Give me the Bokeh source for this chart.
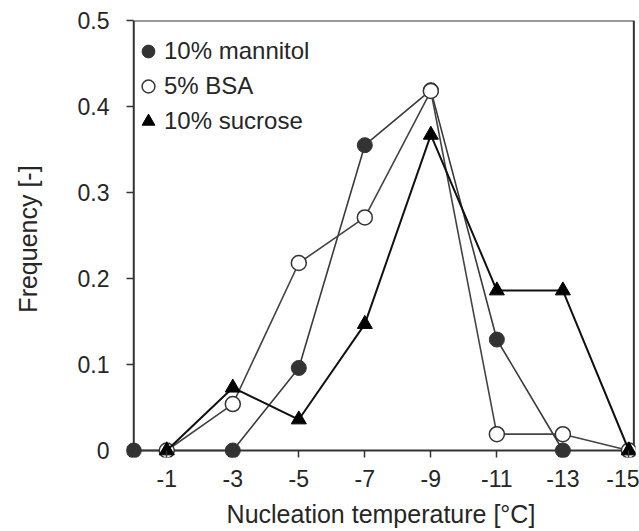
from bokeh.plotting import figure
from bokeh.models import Range1d, FixedTicker, Legend, LegendItem, BoxAnnotation
from bokeh.embed import file_html
from bokeh.resources import INLINE

# Data
temps_mannitol = [0, -3, -5, -7, -9, -11, -13]
freq_mannitol = [0, 0, 0.096, 0.355, 0.419, 0.129, 0]

temps_bsa = [-1, -3, -5, -7, -9, -11, -13, -15]
freq_bsa = [0, 0.054, 0.218, 0.271, 0.418, 0.019, 0.019, 0]

temps_sucrose = [-1, -3, -5, -7, -9, -11, -13, -15]
freq_sucrose = [0, 0.073, 0.036, 0.147, 0.367, 0.186, 0.186, 0]

x_ticks = [-1, -3, -5, -7, -9, -11, -13, -15]
x_tick_labels = ["-1", "-3", "-5", "-7", "-9", "-11", "-13", "-15"]
y_ticks = [0, 0.1, 0.2, 0.3, 0.4, 0.5]
y_tick_labels = ["0", "0.1", "0.2", "0.3", "0.4", "0.5"]

# axis limits of the plot area
X_MAX, X_MIN = 0, -15.15
Y_MIN, Y_MAX = 0, 0.5

FONT = "Liberation Sans"
TXT = "#262626"
AX = "#333333"

p = figure(width=639, height=531,
           x_range=Range1d(0.22, -15.2), y_range=Range1d(-0.00814, 0.5),
           output_backend="svg", toolbar_location=None,
           min_border_left=126, min_border_right=4,
           min_border_top=20, min_border_bottom=74)

p.background_fill_color = "white"
p.border_fill_color = "white"
p.outline_line_color = None
p.grid.visible = False

# plot-area box: its left and bottom edges are the axis lines
p.add_layout(BoxAnnotation(left=X_MAX, right=X_MIN, bottom=Y_MIN, top=Y_MAX,
                           fill_alpha=0, line_color=AX, line_alpha=1,
                           line_width=2, level="underlay"))

# series
p.line(temps_mannitol, freq_mannitol, line_color="#3a3a3a", line_width=1.6)
r_m = p.scatter(temps_mannitol, freq_mannitol, marker="circle", size=15,
                fill_color="#333333", line_color="#333333", line_width=1)

p.line(temps_bsa, freq_bsa, line_color="#444444", line_width=1.6)
r_b = p.scatter(temps_bsa, freq_bsa, marker="circle", size=15,
                fill_color="white", line_color="#333333", line_width=1.5)

p.line(temps_sucrose, freq_sucrose, line_color="#111111", line_width=2)
r_s = p.scatter(temps_sucrose, freq_sucrose, marker="triangle", size=15,
                fill_color="black", line_color="black", line_width=1)

# axes
xa = p.xaxis[0]
xa.ticker = FixedTicker(ticks=x_ticks)
xa.major_label_overrides = {t: l for t, l in zip(x_ticks, x_tick_labels)}
xa.minor_tick_line_color = None
xa.axis_line_color = None
xa.major_tick_in = 7
xa.major_tick_out = 0
xa.major_label_standoff = 12
xa.major_tick_line_color = AX
xa.major_tick_line_width = 1.5
xa.major_label_text_font = FONT
xa.major_label_text_font_size = "23px"
xa.major_label_text_color = TXT
xa.axis_label = "Nucleation temperature [°C]"
xa.axis_label_text_font = FONT
xa.axis_label_text_font_size = "25px"
xa.axis_label_text_font_style = "normal"
xa.axis_label_text_color = TXT
xa.axis_label_standoff = 10

ya = p.yaxis[0]
ya.ticker = FixedTicker(ticks=y_ticks)
ya.major_label_overrides = {t: l for t, l in zip(y_ticks, y_tick_labels)}
ya.minor_tick_line_color = None
ya.axis_line_color = None
ya.major_tick_in = 7
ya.major_tick_out = 0
ya.major_label_standoff = 17
ya.major_tick_line_color = AX
ya.major_tick_line_width = 1.5
ya.major_label_text_font = FONT
ya.major_label_text_font_size = "23px"
ya.major_label_text_color = TXT
ya.axis_label = "Frequency [-]"
ya.axis_label_text_font = FONT
ya.axis_label_text_font_size = "25px"
ya.axis_label_text_font_style = "normal"
ya.axis_label_text_color = TXT
ya.axis_label_standoff = 33

legend = Legend(items=[LegendItem(label="10% mannitol", renderers=[r_m]),
                       LegendItem(label="5% BSA", renderers=[r_b]),
                       LegendItem(label="10% sucrose", renderers=[r_s])],
                location=(6, 320), padding=0, margin=0, spacing=3,
                glyph_width=32, glyph_height=32, label_standoff=0,
                label_text_font=FONT, label_text_font_size="24px",
                label_text_color=TXT, border_line_color=None,
                background_fill_alpha=0)
p.add_layout(legend, "center")

open("out.html", "w").write(file_html(p, INLINE))
